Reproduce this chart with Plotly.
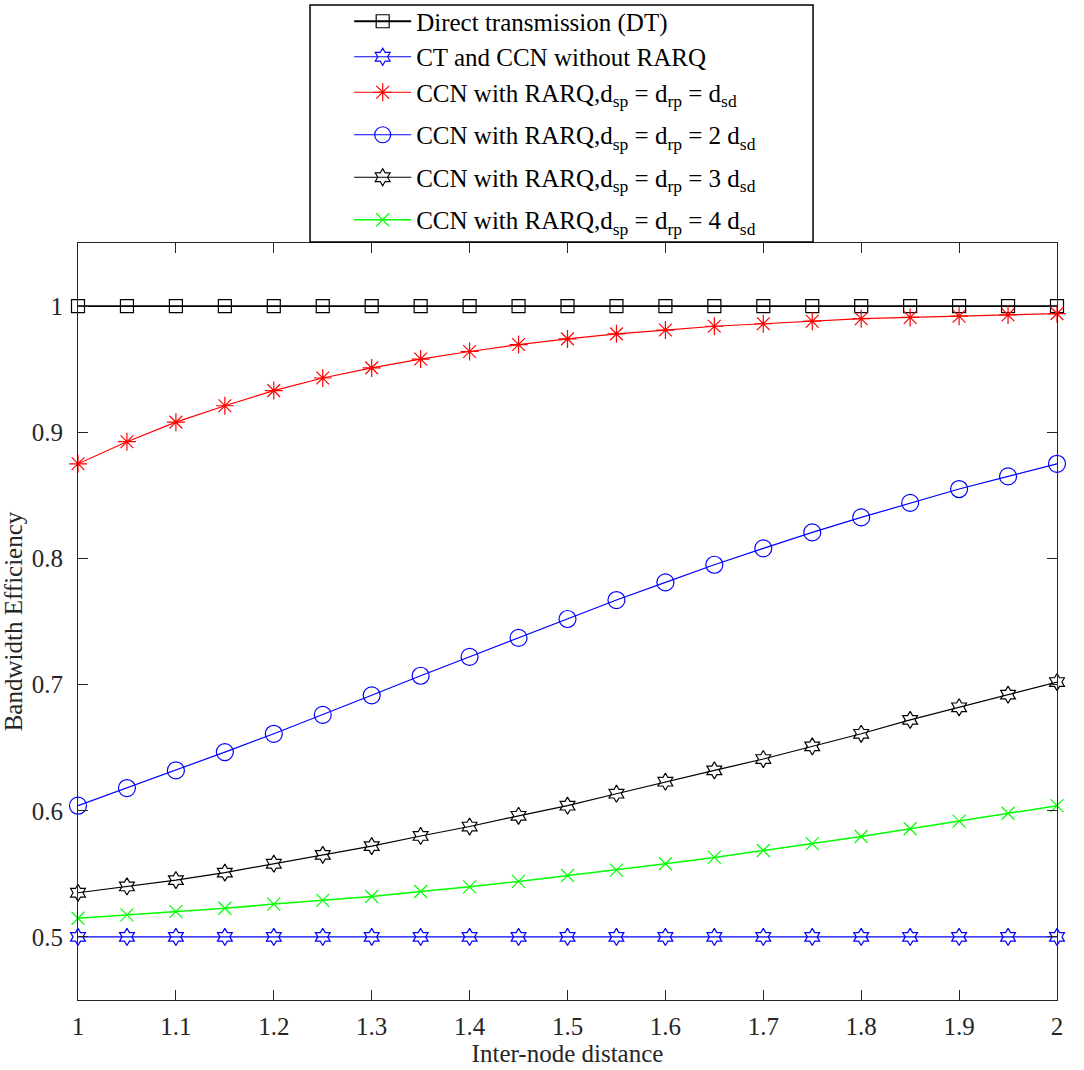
import plotly.graph_objects as go

x_vals = [1.0, 1.05, 1.1, 1.15, 1.2, 1.25, 1.3, 1.35, 1.4, 1.45, 1.5,
          1.55, 1.6, 1.65, 1.7, 1.75, 1.8, 1.85, 1.9, 1.95, 2.0]

dt = [1.0] * 21
ct_no_rarq = [0.5] * 21
ccn_1 = [0.875, 0.8925, 0.908, 0.921, 0.933, 0.943, 0.951, 0.958, 0.964, 0.9695, 0.974,
         0.978, 0.981, 0.984, 0.986, 0.988, 0.990, 0.991, 0.992, 0.993, 0.994]
ccn_2 = [0.604, 0.618, 0.632, 0.6465, 0.661, 0.676, 0.6915, 0.707, 0.722, 0.737, 0.752,
         0.767, 0.781, 0.795, 0.808, 0.8206, 0.8325, 0.844, 0.855, 0.865, 0.875]
ccn_3 = [0.535, 0.540, 0.545, 0.551, 0.558, 0.565, 0.572, 0.580, 0.5875, 0.596, 0.604,
         0.6135, 0.623, 0.632, 0.641, 0.651, 0.661, 0.672, 0.682, 0.692, 0.702]
ccn_4 = [0.5148, 0.5175, 0.520, 0.5227, 0.526, 0.529, 0.532, 0.536, 0.5397, 0.544, 0.5487,
         0.553, 0.558, 0.563, 0.5685, 0.574, 0.5796, 0.5857, 0.5918, 0.598, 0.604]

names = [
    "Direct transmission (DT)",
    "CT and CCN without RARQ",
    "CCN with RARQ,d<sub>sp</sub> = d<sub>rp</sub> = d<sub>sd</sub>",
    "CCN with RARQ,d<sub>sp</sub> = d<sub>rp</sub> = 2 d<sub>sd</sub>",
    "CCN with RARQ,d<sub>sp</sub> = d<sub>rp</sub> = 3 d<sub>sd</sub>",
    "CCN with RARQ,d<sub>sp</sub> = d<sub>rp</sub> = 4 d<sub>sd</sub>",
]
series = [dt, ct_no_rarq, ccn_1, ccn_2, ccn_3, ccn_4]
colors = ["#000000", "#0000ff", "#ff0000", "#0000ff", "#000000", "#00ff00"]
symbols = ["square-open", "hexagram-open", "asterisk-open", "circle-open", "hexagram-open", "x-thin-open"]
sizes = [13, 13, 15, 17, 13, 13]
widths = [1.8, 1.2, 1.2, 1.2, 1.2, 1.5]
groups = ["g1", "g1", "g1", "g2", "g3", "g4"]

x_ticks = [1, 1.1, 1.2, 1.3, 1.4, 1.5, 1.6, 1.7, 1.8, 1.9, 2]
x_tick_text = ["1", "1.1", "1.2", "1.3", "1.4", "1.5", "1.6", "1.7", "1.8", "1.9", "2"]
y_ticks = [0.5, 0.6, 0.7, 0.8, 0.9, 1.0]
y_tick_text = ["0.5", "0.6", "0.7", "0.8", "0.9", "1"]

font_family = "Times New Roman, Liberation Serif, serif"
axis_col = "#262626"

fig = go.Figure()
for name, ys, c, s, sz, w, g in zip(names, series, colors, symbols, sizes, widths, groups):
    fig.add_trace(go.Scatter(
        x=x_vals, y=ys, name=name, mode="lines+markers", legendgroup=g,
        line=dict(color=c, width=w),
        marker=dict(symbol=s, size=sz, color=c, line=dict(color=c, width=1.2)),
        cliponaxis=False,
    ))

# legend frame (white box with black border) drawn behind the legend entries
fig.add_shape(type="rect", xref="paper", yref="paper",
              x0=0.237, x1=0.7508, y0=1.0013, y1=1.3144,
              fillcolor="white", line=dict(color="#000000", width=1.5), layer="above")

fig.update_layout(
    width=1084, height=1070,
    paper_bgcolor="white", plot_bgcolor="white",
    margin=dict(l=78, r=27, t=243, b=70, autoexpand=False),
    font=dict(family=font_family, size=25, color="#000000"),
    showlegend=True,
    legend=dict(
        x=0.277, y=1.323, xanchor="left", yanchor="top",
        bgcolor="rgba(0,0,0,0)", borderwidth=0,
        font=dict(family=font_family, size=25, color="#000000"),
        tracegroupgap=7, itemwidth=57,
    ),
)
fig.update_xaxes(
    range=[1, 2], tickvals=x_ticks, ticktext=x_tick_text,
    ticks="inside", ticklen=10, tickcolor=axis_col, tickwidth=1,
    showline=True, linecolor=axis_col, linewidth=1.2, mirror="ticks",
    showgrid=False, zeroline=False, ticklabelstandoff=4,
    tickfont=dict(family=font_family, size=25, color=axis_col),
    title=dict(text="Inter-node distance", standoff=3,
               font=dict(family=font_family, size=25, color=axis_col)),
)
fig.update_yaxes(
    range=[0.45, 1.05], tickvals=y_ticks, ticktext=y_tick_text,
    ticks="inside", ticklen=10, tickcolor=axis_col, tickwidth=1,
    showline=True, linecolor=axis_col, linewidth=1.2, mirror="ticks",
    showgrid=False, zeroline=False, ticklabelstandoff=9,
    tickfont=dict(family=font_family, size=25, color=axis_col),
    title=dict(text="Bandwidth Efficiency", standoff=9,
               font=dict(family=font_family, size=25, color=axis_col)),
)

fig.write_html(
    "out.html",
    config={"displayModeBar": False},
    post_script="document.body.style.margin='0';document.body.style.overflow='hidden';",
)
